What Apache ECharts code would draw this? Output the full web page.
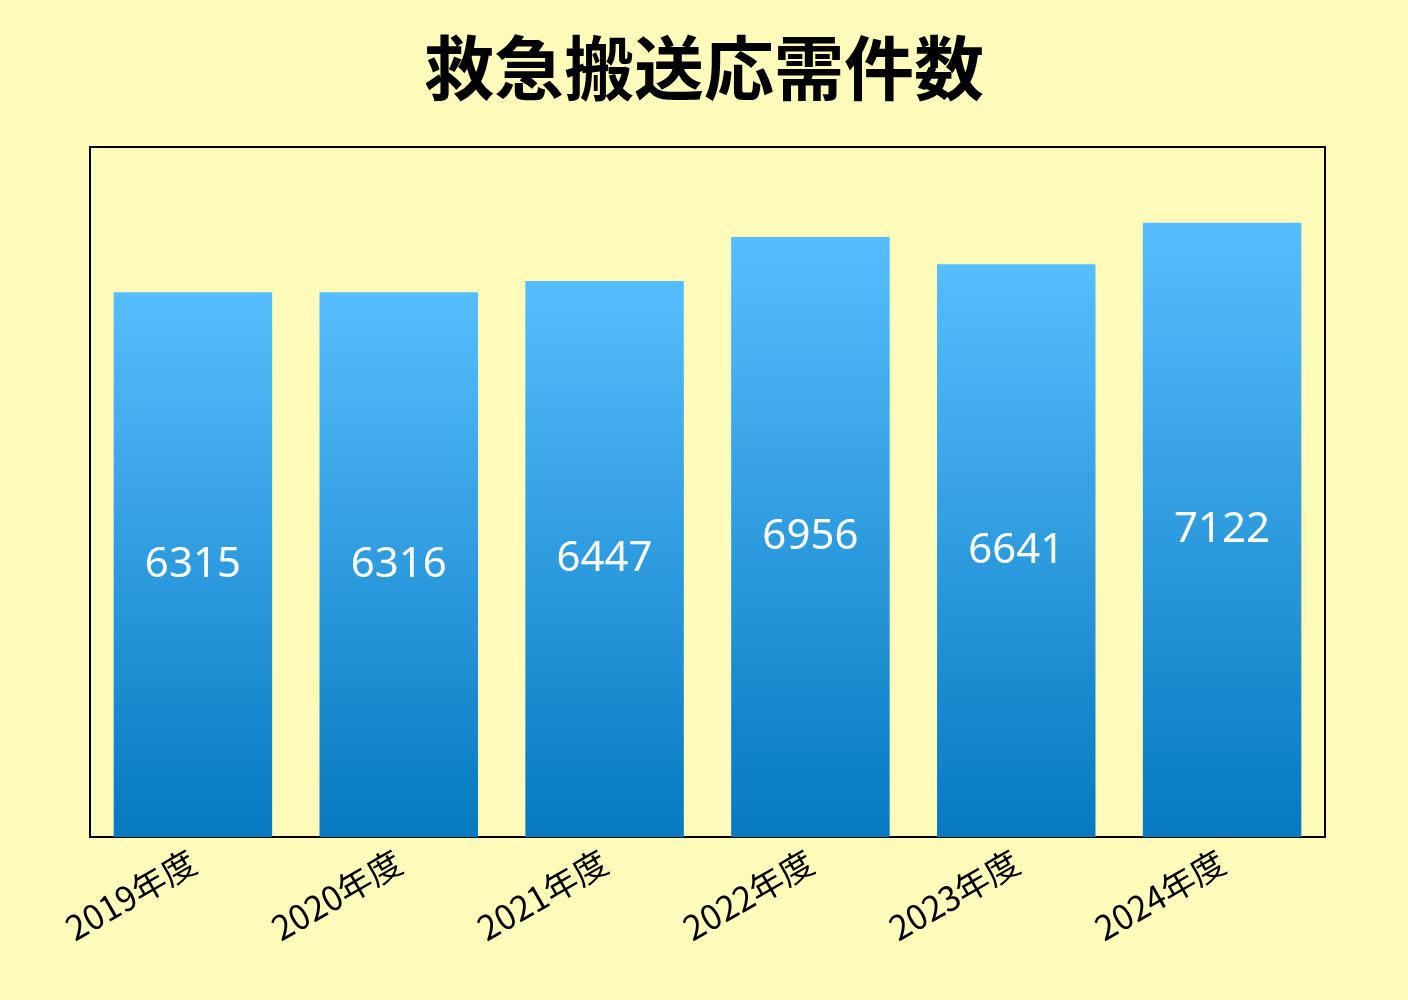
<!DOCTYPE html>
<html><head><meta charset="utf-8">
<script src="https://cdn.jsdelivr.net/npm/echarts@6/dist/echarts.min.js"></script>
<style>html,body{margin:0;padding:0;background:#fffbbb;}#c{width:1408px;height:1000px;}</style>
</head><body><div id="c"></div>
<script>
const categories = ['2019年度','2020年度','2021年度','2022年度','2023年度','2024年度'];
const values = [6315, 6316, 6447, 6956, 6641, 7122];
const chart = echarts.init(document.getElementById('c'));
chart.setOption({
  backgroundColor: '#fffbbb',
  title: {text: '救急搬送応需件数', left: 'center', top: 28,
    textStyle: {fontSize: 70, fontWeight: 'bold', color: '#000', fontFamily: 'Noto Sans CJK JP'}},
  grid: {left: 90, right: 83, top: 147, bottom: 163, show: true, borderColor: '#000', borderWidth: 2, backgroundColor: 'transparent'},
  xAxis: {type: 'category', data: categories,
    axisLine: {lineStyle: {color: '#000', width: 2}}, axisTick: {show: false},
    axisLabel: {rotate: 30, fontSize: 34, color: '#000', margin: 22, fontFamily: 'Noto Sans CJK JP', align: 'right', offset: [80, 0]}},
  yAxis: {type: 'value', min: 0, max: 8000, show: false, splitLine: {show: false}},
  series: [{type: 'bar', data: values, barWidth: '77%',
    itemStyle: {color: new echarts.graphic.LinearGradient(0, 0, 0, 1, [
      {offset: 0, color: '#56befe'}, {offset: 1, color: '#0679c0'}])},
    label: {show: true, position: 'inside', color: '#fff', fontSize: 42, fontFamily: 'Noto Sans'}
  }]
});
</script></body></html>
